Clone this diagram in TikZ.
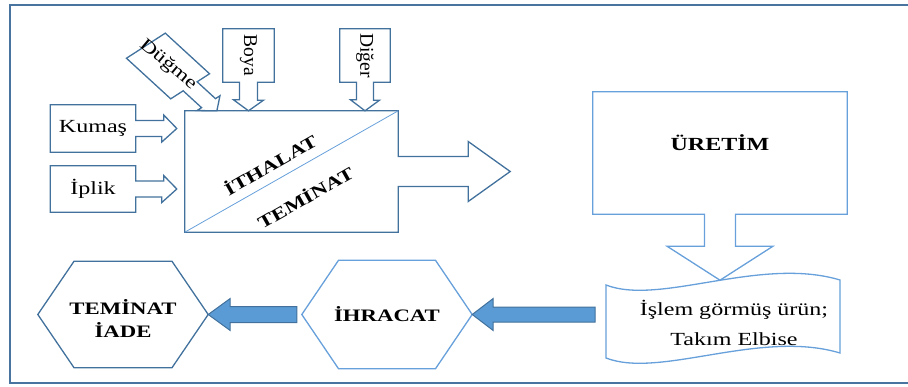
\documentclass[tikz,border=0pt]{standalone}
\usepackage{fontspec}
\setmainfont{Liberation Serif}[FakeStretch=1.3]
\newfontfamily\rotfont{Liberation Serif}
\usetikzlibrary{calc}
\definecolor{edgeblue}{RGB}{65,113,156}
\definecolor{lightblue}{RGB}{103,160,218}
\definecolor{framecol}{RGB}{74,116,160}
\definecolor{arrowfill}{RGB}{91,155,213}

\begin{document}
\begin{tikzpicture}[x=1pt,y=1pt,
  darkline/.style={draw=edgeblue,line width=1.3pt},
  lightline/.style={draw=lightblue,line width=1.3pt},
  fillarrow/.style={draw=edgeblue,fill=arrowfill,line width=1pt},
  txt/.style={font=\fontsize{18.5}{30}\selectfont},
  boldtxt/.style={font=\fontsize{17.5}{23}\selectfont\bfseries},
  vtxt/.style={font=\rotfont\fontsize{19.5}{22}\selectfont}]
\useasboundingbox (0,0) rectangle (908,386);
% frame
\draw[framecol,line width=2pt] (912,381) -- (10,381) -- (10,3) -- (912,3);

% ithalat / teminat box with its arrow
\node[minimum width=213pt,minimum height=121pt] (ithalat) at (291.5,214.5) {};
\draw[darkline] (ithalat.north west) -- (ithalat.north east) -- ([yshift=15pt]ithalat.east)
  -- ++(70,0) -- ++(0,15) -- ++(42,-30) -- ++(-42,-30) -- ++(0,15)
  -- ([yshift=-15pt]ithalat.east) -- (ithalat.south east) -- (ithalat.south west) -- cycle;
\draw[lightblue,line width=0.8pt] (ithalat.south west) -- (ithalat.north east);
\node[boldtxt,rotate=29.6] (ithlbl) at (270,222) {İTHALAT};
\node[boldtxt,rotate=29.6] (temlbl) at (305,189) {TEMİNAT};

% inputs
\node[txt,minimum width=85pt,minimum height=47pt] (kumas) at (93,257.5) {Kumaş};
\draw[darkline] (kumas.north west) -- (kumas.north east) -- ([yshift=8pt]kumas.east)
  -- ++(28,0) -- ++(0,5.5) -- ($(kumas.east -| ithalat.west)+(-8,0)$) -- ++(-15,-13.5)
  -- ++(0,5.5) -- ([yshift=-8pt]kumas.east) -- (kumas.south east) -- (kumas.south west) -- cycle;
\node[txt,minimum width=85pt,minimum height=46pt] (iplik) at (93,197) {İplik};
\draw[darkline] (iplik.north west) -- (iplik.north east) -- ([yshift=8pt]iplik.east)
  -- ++(28,0) -- ++(0,5.5) -- ($(iplik.east -| ithalat.west)+(-8,0)$) -- ++(-15,-13.5)
  -- ++(0,5.5) -- ([yshift=-8pt]iplik.east) -- (iplik.south east) -- (iplik.south west) -- cycle;
\node[vtxt,minimum width=51pt,minimum height=53pt] (boya) at (248.5,330.5) {\rotatebox{-90}{Boya}};
\draw[darkline] (boya.south west) -- (boya.north west) -- (boya.north east) -- (boya.south east)
  -- ([xshift=9pt]boya.south) -- ++(0,-18) -- ++(6,0) -- (boya.south |- ithalat.north)
  -- ($(boya.south |- ithalat.north)+(-15,11)$) -- ++(6,0) -- ([xshift=-9pt]boya.south) -- cycle;
\node[vtxt,minimum width=50pt,minimum height=53pt] (diger) at (365,330.5) {\rotatebox{-90}{Diğer}};
\draw[darkline] (diger.south west) -- (diger.north west) -- (diger.north east) -- (diger.south east)
  -- ([xshift=8.5pt]diger.south) -- ++(0,-18) -- ++(6,0) -- (diger.south |- ithalat.north)
  -- ($(diger.south |- ithalat.north)+(-14.5,11)$) -- ++(6,0) -- ([xshift=-8.5pt]diger.south) -- cycle;
\begin{scope}[shift={(168,320)},xscale=1.3,rotate=-50]
  \draw[darkline] (-26.5,19.5) -- (26.5,19.5) -- (26.5,7) -- (48.5,7) -- (48.5,11.5) -- (58.5,0)
    -- (48.5,-11.5) -- (48.5,-7) -- (26.5,-7) -- (26.5,-19.5) -- (-26.5,-19.5) -- cycle;
\end{scope}
\node[font=\fontsize{18}{20}\selectfont,rotate=-40] (dugme) at (168,321) {Düğme};

% uretim
\node[minimum width=254pt,minimum height=122pt,
  label={[font=\fontsize{18.5}{23}\selectfont\bfseries,yshift=10pt]center:ÜRETİM}] (uretim) at (720,233) {};
\draw[lightline] (uretim.north west) -- (uretim.north east) -- (uretim.south east)
  -- ([xshift=15.5pt]uretim.south) -- ++(0,-32) -- ++(37.5,0) -- ++(-53,-34) -- ++(-53,34)
  -- ++(37.5,0) -- ([xshift=-15.5pt]uretim.south) -- (uretim.south west) -- cycle;

% product (punched tape)
\node[txt,align=center] (urun) at (734,63) {İşlem görmüş ürün;\\Takım Elbise};
\coordinate (tape) at (606,71.5);
\draw[lightline] (606,101) .. controls (660,80) and (760,130) .. (840,106) -- (840,33)
  .. controls (760,57) and (660,7) .. (606,28) -- cycle;

% hexagons
\node[minimum width=170pt,minimum height=106pt,
  label={[boldtxt,align=center,yshift=-4.5pt]center:TEMİNAT\\İADE}] (iade) at (123,71.5) {};
\draw[darkline] (iade.west) -- ($(iade.north)+(-49,0)$) -- ($(iade.north)+(49,0)$) -- (iade.east)
  -- ($(iade.south)+(49,0)$) -- ($(iade.south)+(-49,0)$) -- cycle;
\node[boldtxt,minimum width=170pt,minimum height=108pt] (ihracat) at (387,71.5) {İHRACAT};
\draw[lightline] (ihracat.west) -- ($(ihracat.north)+(-48.5,0)$) -- ($(ihracat.north)+(48.5,0)$) -- (ihracat.east)
  -- ($(ihracat.south)+(48.5,0)$) -- ($(ihracat.south)+(-48.5,0)$) -- cycle;

% blue arrows
\draw[fillarrow] ($(ihracat.west)+(-5,8)$) -- ($(iade.east)+(22,8)$) -- ++(0,8) -- (iade.east)
  -- ++(22,-16) -- ++(0,8) -- ($(ihracat.west)+(-5,-8)$) -- cycle;
\draw[fillarrow] ($(tape)+(-11,7.5)$) -- ($(ihracat.east)+(21,7.5)$) -- ++(0,8.5) -- (ihracat.east)
  -- ++(21,-16) -- ++(0,8.5) -- ($(tape)+(-11,-7.5)$) -- cycle;
\end{tikzpicture}
\end{document}
